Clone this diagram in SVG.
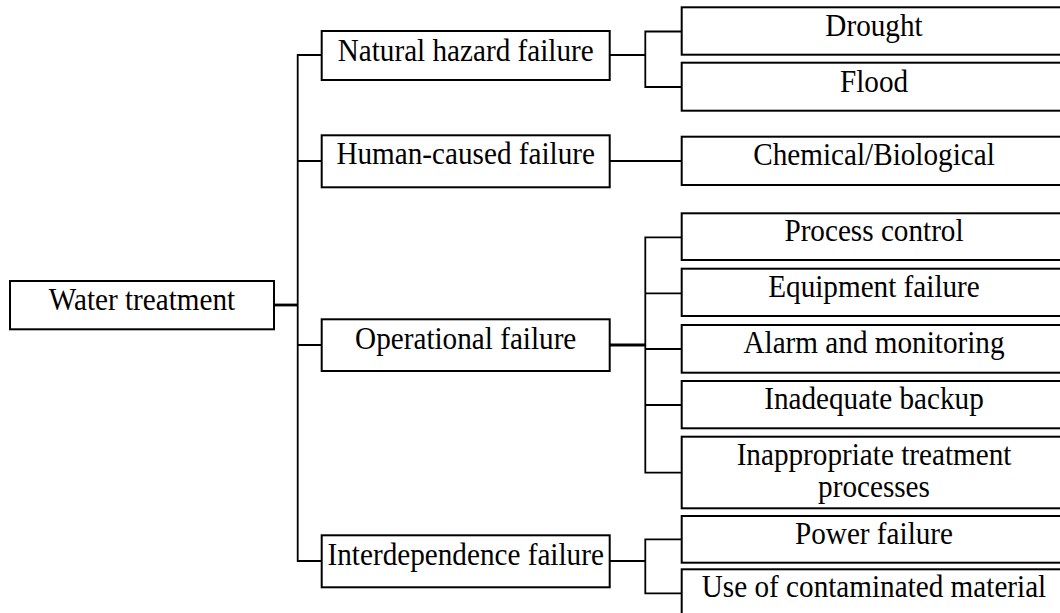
<svg xmlns="http://www.w3.org/2000/svg" width="1060" height="613" viewBox="0 0 1060 613">
<style>
.box{fill:#fff;stroke:#000;stroke-width:2}
.lbl{font-family:"Liberation Serif","Times New Roman",serif;font-size:29.2px;fill:#000;text-anchor:middle}
.c{fill:none;stroke:#000;stroke-width:1.8}
.t{fill:none;stroke:#000;stroke-width:2.8}
</style>
<rect width="1060" height="613" fill="#fff"/>
<g id="connectors">
<path class="t" d="M274 305H297.7"/>
<path class="c" d="M321.7 55H297.7V561H321.7M297.7 161H321.7M297.7 345H321.7"/>
<path class="c" d="M609.7 55H645.3M681.7 31.5H645.3V87H681.7"/>
<path class="c" d="M609.7 161H681.7"/>
<path class="t" d="M609.7 345H645.3"/>
<path class="c" d="M681.7 237.3H645.3V472.7H681.7M645.3 293.3H681.7M645.3 349H681.7M645.3 405H681.7"/>
<path class="c" d="M609.7 561H645.3M681.7 539.3H645.3V593.3H681.7"/>
</g>
<g id="water-treatment"><rect class="box" x="10" y="281" width="264" height="48.3"/><text class="lbl" transform="translate(142 310.3) scale(1 1.06)">Water treatment</text></g>
<g id="natural-hazard"><rect class="box" x="321.7" y="31" width="288" height="49"/><text class="lbl" transform="translate(465.7 61.3) scale(1 1.06)">Natural hazard failure</text></g>
<g id="human-caused"><rect class="box" x="321.7" y="135.3" width="288" height="52"/><text class="lbl" transform="translate(465.7 164.3) scale(1 1.06)">Human-caused failure</text></g>
<g id="operational"><rect class="box" x="321.7" y="319.3" width="288" height="51.7"/><text class="lbl" transform="translate(465.7 348.5) scale(1 1.06)">Operational failure</text></g>
<g id="interdependence"><rect class="box" x="321.7" y="535.3" width="288" height="52"/><text class="lbl" transform="translate(465.7 565.2) scale(1 1.06)">Interdependence failure</text></g>
<g id="drought"><rect class="box" x="681.7" y="7.3" width="384" height="47.4"/><text class="lbl" transform="translate(874 35.8) scale(1 1.06)">Drought</text></g>
<g id="flood"><rect class="box" x="681.7" y="62.7" width="384" height="48"/><text class="lbl" transform="translate(874 91.8) scale(1 1.06)">Flood</text></g>
<g id="chemical"><rect class="box" x="681.7" y="136.7" width="384" height="48.3"/><text class="lbl" transform="translate(874 165.2) scale(1 1.06)">Chemical/Biological</text></g>
<g id="process-control"><rect class="box" x="681.7" y="213.3" width="384" height="46.7"/><text class="lbl" transform="translate(874 240.8) scale(1 1.06)">Process control</text></g>
<g id="equipment"><rect class="box" x="681.7" y="268.7" width="384" height="47.3"/><text class="lbl" transform="translate(874 296.8) scale(1 1.06)">Equipment failure</text></g>
<g id="alarm"><rect class="box" x="681.7" y="325" width="384" height="47.7"/><text class="lbl" transform="translate(874 352.8) scale(1 1.06)">Alarm and monitoring</text></g>
<g id="backup"><rect class="box" x="681.7" y="381" width="384" height="47.3"/><text class="lbl" transform="translate(874 408.5) scale(1 1.06)">Inadequate backup</text></g>
<g id="inappropriate"><rect class="box" x="681.7" y="436.7" width="384" height="71.6"/><text class="lbl" transform="translate(874 464.5) scale(1 1.06)">Inappropriate treatment</text><text class="lbl" transform="translate(874 496.8) scale(1 1.06)">processes</text></g>
<g id="power"><rect class="box" x="681.7" y="516" width="384" height="46.7"/><text class="lbl" transform="translate(874 543.5) scale(1 1.06)">Power failure</text></g>
<g id="contaminated"><rect class="box" x="681.7" y="569.3" width="384" height="48"/><text class="lbl" transform="translate(874 596.8) scale(1 1.06)">Use of contaminated material</text></g>
</svg>
